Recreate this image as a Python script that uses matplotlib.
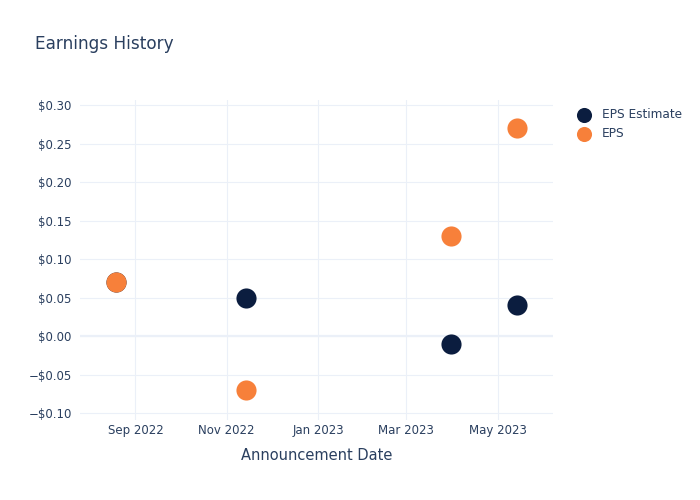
import matplotlib
matplotlib.use("Agg")
import matplotlib.pyplot as plt
import matplotlib.dates as mdates
import numpy as np
import datetime as dt

# announcement dates and values
dates = [dt.date(2022, 8, 19), dt.date(2022, 11, 14), dt.date(2023, 3, 31), dt.date(2023, 5, 14)]
eps_estimate = [0.07, 0.05, -0.01, 0.04]
eps_actual = [0.07, -0.07, 0.13, 0.27]

text_color = "#2a3f5f"
grid_color = "#ebf0f8"
navy = "#0b1d3f"
orange = "#f7803a"

plt.rcParams['font.family'] = ['DejaVu Sans']

fig = plt.figure(figsize=(7, 5), dpi=100)
ax = fig.add_axes([80 / 700, 80 / 500, 473 / 700, 320 / 500])

ax.scatter(dates, eps_estimate, s=210, color=navy, label="EPS Estimate", zorder=3, linewidths=0)
ax.scatter(dates, eps_actual, s=210, color=orange, label="EPS", zorder=4, linewidths=0)

ax.set_xlim(dt.date(2022, 7, 26), dt.date(2023, 6, 7))
ax.set_ylim(-0.1085, 0.3065)

ax.xaxis.set_major_locator(mdates.MonthLocator(bymonth=[1, 3, 5, 7, 9, 11]))
ax.xaxis.set_major_formatter(mdates.DateFormatter("%b %Y"))
ax.set_yticks(np.arange(-0.10, 0.31, 0.05))
ax.yaxis.set_major_formatter(plt.FuncFormatter(lambda v, p: ("\u2212" if v < -1e-9 else "") + "$%.2f" % abs(v)))

ax.grid(True, color=grid_color, linewidth=0.8)
ax.axhline(0, color=grid_color, linewidth=1.6, zorder=1)
ax.set_axisbelow(True)
for s in ax.spines.values():
    s.set_visible(False)
ax.tick_params(length=0, colors=text_color, labelsize=8.5)
ax.tick_params(axis="x", pad=3)
ax.tick_params(axis="y", pad=6)

ax.set_xlabel("Announcement Date", color=text_color, fontsize=10.5, labelpad=8)
fig.text(35 / 700, 1 - 44 / 500, "Earnings History", color=text_color, fontsize=12.2, va="center", ha="left")

leg = ax.legend(loc="upper left", bbox_to_anchor=(1.03, 0.99), frameon=False, fontsize=8.7,
                labelcolor=text_color, handletextpad=0.5, borderaxespad=0, labelspacing=0.5,
                markerscale=0.75)

fig.savefig("out.png", dpi=100)
